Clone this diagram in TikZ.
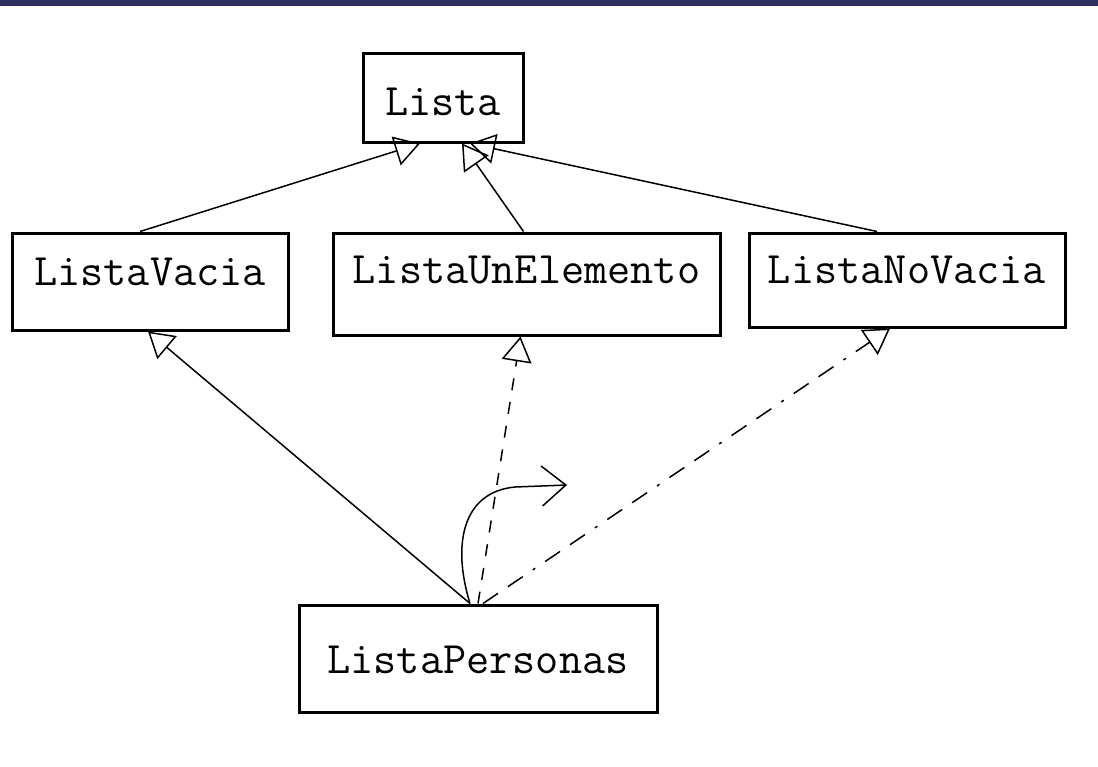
\documentclass[tikz,border=0pt]{standalone}
\usepackage{fontspec}
\usepackage{tikz}
\usetikzlibrary{arrows.meta,positioning}
\definecolor{barra}{RGB}{49,49,97}

\begin{document}
\begin{tikzpicture}[x=1pt, y=-1pt, every node/.style={font=\ttfamily\fontsize{45}{50}\selectfont}]
\tikzset{clase/.style={draw, line width=3pt, inner sep=0pt, text height=30pt, text depth=0pt}}
\tikzset{hereda/.style={line width=1.5pt, -{Triangle[open, length=25pt, width=30pt]}}}
\tikzset{realiza/.style={hereda, dash pattern=on 12pt off 12pt}}
\tikzset{realizapunto/.style={hereda, dash pattern=on 18pt off 12pt on 18pt off 12pt on 3pt off 12pt}}
\useasboundingbox (0,0) rectangle (1098,766);
\fill[barra] (0,0) rectangle (1098,6);
% clases
\node[clase, minimum width=160pt, minimum height=89pt, text height=35pt, text depth=0pt] (lista) at (443,97.5) {Lista};
\node[clase, minimum width=276pt, minimum height=97pt, text depth=23pt] (vacia) at (150,281.5) {ListaVacia};
\node[clase, minimum width=387pt, minimum height=102pt, text depth=32pt] (une) at (526.5,284) {ListaUnElemento};
\node[clase, minimum width=316pt, minimum height=94pt, text depth=24pt] (novacia) at (907,280) {ListaNoVacia};
\node[clase, minimum width=358pt, minimum height=107pt, text height=35pt, text depth=6pt] (personas) at (478,658.5) {ListaPersonas};
\coordinate (curva) at (567,485);
% herencia hacia Lista
\draw[hereda] ([xshift=-10pt]vacia.north) -- ([xshift=-23pt]lista.south);
\draw[hereda] ([xshift=-3pt]une.north) -- ([xshift=19pt]lista.south);
\draw[hereda] ([xshift=-30pt]novacia.north) -- ([xshift=27pt]lista.south);
% ListaPersonas
\draw[hereda] ([xshift=-8pt]personas.north) -- ([xshift=-2pt]vacia.south);
\draw[realiza] (personas.north) -- ([xshift=-6pt]une.south);
\draw[realizapunto] ([xshift=5pt]personas.north) -- ([xshift=-17pt]novacia.south);
\draw[line width=1.5pt, -{Straight Barb[length=24pt, width=40pt]}] ([xshift=-8pt]personas.north) .. controls (452,545) and (462,492) .. (515,487) -- (curva);
\end{tikzpicture}
\end{document}
